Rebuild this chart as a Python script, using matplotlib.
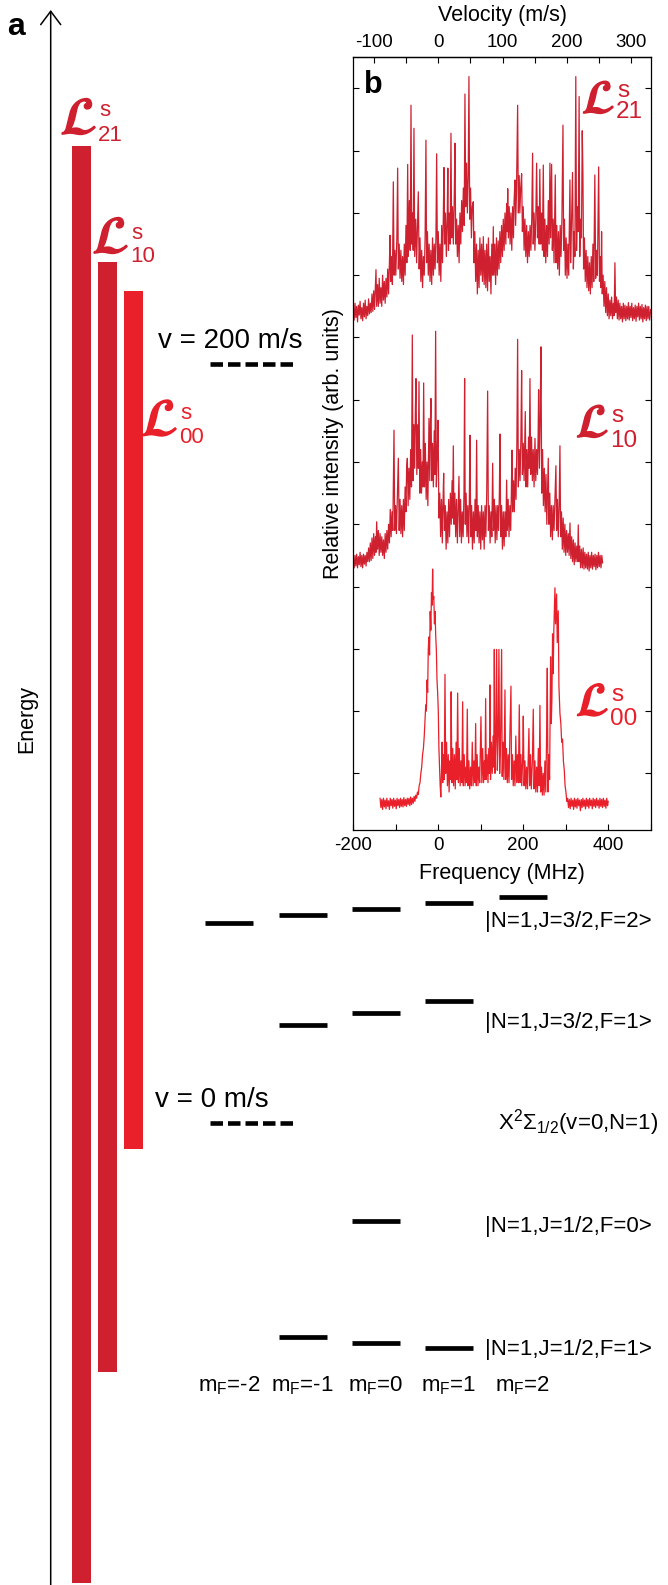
import numpy as np
import matplotlib
matplotlib.use('Agg')
import matplotlib.pyplot as plt
import matplotlib.patheffects as pe
from matplotlib.ticker import MultipleLocator

plt.rcParams['font.family'] = ['Liberation Sans', 'DejaVu Sans']
plt.rcParams['mathtext.fontset'] = 'custom'
plt.rcParams['mathtext.rm'] = 'Liberation Sans'
plt.rcParams['mathtext.it'] = 'Liberation Sans:italic'
plt.rcParams['mathtext.bf'] = 'Liberation Sans:bold'
plt.rcParams['lines.scale_dashes'] = False
plt.rcParams['axes.unicode_minus'] = False

# ---------------- data: panel a (energy in velocity-equivalent units, m/s) ----------------
bar_names = ['21', '10', '00']
bar_top = [257.4, 226.9, 219.2]
bar_bottom = [-121.2, -65.6, -6.9]
velocity_marks = [200, 0]
velocity_labels = ['v = 200 m/s', 'v = 0 m/s']

mF_labels = ['-2', '-1', '0', '1', '2']
lev_J32_F2 = [52.8, 54.7, 56.3, 57.9, 59.5]      # mF = -2..2
lev_J32_F1 = [25.8, 28.9, 32.1]                  # mF = -1..1
lev_J12_F0 = [-25.7]                             # mF = 0
lev_J12_F1 = [-56.3, -57.9, -59.4]               # mF = -1..1
state_labels = ['|N=1,J=3/2,F=2>', '|N=1,J=3/2,F=1>', r'X$^2\Sigma_{1/2}$(v=0,N=1)',
                '|N=1,J=1/2,F=0>', '|N=1,J=1/2,F=1>']

# ---------------- data: panel b spectra (frequency MHz, intensity arb.) ----------------
l21_trace = np.array([
(-200, 8.45), (-198, 8.28), (-196, 8.55), (-194, 8.32), (-192, 8.5), (-190, 8.25), (-188, 8.52), (-186, 8.36),
(-184, 8.58), (-182, 8.3), (-180, 8.48), (-178, 8.27), (-176, 8.55), (-174, 8.33), (-172, 8.6), (-170, 8.3),
(-168, 8.5), (-166, 8.35), (-164, 8.62), (-162, 8.38), (-160, 8.55), (-158, 8.4), (-156, 8.7), (-154, 8.42),
(-152, 8.75), (-150, 8.45), (-148, 8.8), (-146.6, 9.09), (-145, 8.5), (-143, 8.85), (-141, 8.5), (-139, 8.95),
(-137, 8.55), (-135, 8.8), (-133, 8.5), (-131, 9.0), (-129, 8.6), (-127, 8.9), (-125, 8.55), (-123, 8.95),
(-121, 8.65), (-119, 9.1), (-117, 8.7), (-115, 9.2), (-113.6, 9.64), (-112, 8.9), (-110, 9.3), (-108, 8.85),
(-105.8, 10.5), (-104, 9.0), (-102, 9.4), (-100, 9.0), (-97.5, 9.6), (-95.6, 10.72), (-94, 9.1), (-92, 9.5),
(-90, 8.95), (-88, 9.4), (-86, 8.9), (-84, 9.3), (-82, 8.85), (-80, 9.5), (-78, 9.0), (-76, 9.8), (-74, 9.2),
(-72, 10.78), (-70.5, 9.3), (-68, 10.2), (-66, 9.4), (-64.2, 11.73), (-62.5, 9.5), (-60.5, 10.0), (-59, 9.4),
(-57.2, 11.36), (-55.5, 9.3), (-53, 9.9), (-51, 9.2), (-49, 9.8), (-47, 10.34), (-45, 9.1), (-43, 9.6),
(-41, 8.9), (-39, 9.4), (-37, 8.8), (-35, 9.3), (-33, 9.0), (-31, 9.6), (-29, 11.17), (-27.5, 9.2),
(-25.5, 9.7), (-23.5, 9.0), (-21.5, 9.5), (-19.5, 8.9), (-17.5, 9.4), (-15.5, 8.85), (-13.5, 9.6), (-11.5, 9.0),
(-9.5, 9.5), (-7.5, 9.1), (-5.5, 9.6), (-3.8, 10.95), (-2, 9.2), (0, 9.7), (2, 9.0), (4, 9.5), (6, 8.9),
(8, 9.8), (10, 9.2), (11.8, 9.9), (13.4, 10.73), (15, 9.5), (17, 10.0), (19, 9.3), (21, 9.9), (22.5, 10.72),
(24, 9.4), (26, 10.0), (28, 9.5), (29.9, 11.28), (31.5, 9.6), (33.5, 10.1), (35.5, 9.5), (37.5, 10.2),
(39.3, 11.12), (41, 9.5), (43, 9.9), (45, 9.3), (47, 9.8), (49, 9.2), (51, 10.0), (53, 9.5), (55, 10.2),
(57, 9.7), (59, 10.4), (61, 9.8), (62.8, 11.91), (64.5, 10.1), (66.5, 10.8), (68.5, 10.0), (70.5, 10.6),
(72.2, 12.19), (74, 9.9), (76, 10.4), (78, 9.6), (80, 10.1), (82.4, 10.18), (84, 9.2), (86, 9.7), (88, 8.9),
(90, 9.5), (92, 8.7), (94, 9.4), (96, 8.8), (98, 9.6), (100, 9.0), (102, 9.5), (104, 8.9), (106, 9.62),
(108, 8.85), (110, 9.4), (112, 8.8), (114, 9.5), (116, 8.75), (118, 9.6), (120, 8.9), (122, 9.3), (124, 8.7),
(126, 9.5), (128, 9.0), (129.5, 9.78), (131, 9.0), (133, 9.5), (135, 8.85), (137, 9.6), (139, 9.0),
(141, 9.55), (143, 9.1), (145, 9.7), (147, 9.2), (149, 9.8), (151, 9.3), (153, 9.9), (155, 9.4), (157, 10.0),
(159, 9.5), (160.9, 10.15), (162, 9.7), (163.5, 10.39), (165, 9.6), (167, 10.1), (169, 9.5), (171, 10.0),
(173, 9.4), (175, 10.1), (177, 9.6), (178.5, 10.2), (180.5, 10.53), (182, 9.8), (184, 10.3), (186.8, 11.73),
(188.5, 10.0), (190.5, 10.6), (192, 10.0), (194, 10.4), (196.2, 10.63), (198, 9.7), (200, 10.1), (202, 9.4),
(204, 9.9), (206, 9.3), (208, 9.8), (210, 9.2), (212, 9.7), (214, 9.3), (216, 9.8), (218, 9.4), (220, 9.9),
(222, 10.96), (223.5, 9.5), (225.5, 10.0), (227.5, 9.4), (229.5, 9.9), (231.5, 10.8), (233.5, 9.6),
(235.5, 10.1), (237.5, 9.5), (239, 10.7), (241, 9.5), (243, 10.0), (245, 9.4), (247.2, 10.77), (249, 9.3),
(251, 9.9), (253, 9.2), (255, 9.8), (257, 9.3), (259, 10.2), (261, 9.5), (262.8, 10.8), (264.5, 9.6),
(266.8, 10.78), (268.5, 9.4), (270.5, 9.9), (272.5, 9.2), (275.4, 10.61), (277, 9.2), (279, 9.8), (281, 9.1),
(283, 9.7), (285, 9.0), (287, 9.8), (289, 9.3), (291, 9.9), (293.5, 11.41), (295, 9.4), (297, 9.9), (299, 9.0),
(301, 9.6), (303, 8.95), (305, 9.5), (307, 9.0), (309.9, 10.53), (311.5, 9.2), (313.5, 9.8), (316, 10.65),
(318, 9.1), (320, 9.7), (321.5, 9.3), (323.7, 12.19), (325.5, 9.4), (327.5, 10.1), (329.5, 9.7),
(331.5, 11.87), (333, 9.3), (335, 9.9), (337, 9.6), (338.9, 11.32), (340.5, 10.63), (342, 9.1), (344, 9.6),
(346, 8.9), (348, 9.4), (350, 8.8), (352, 9.3), (354, 8.75), (356, 9.2), (358, 8.7), (360, 9.3), (362, 8.8),
(364, 9.5), (366, 8.9), (368.5, 10.61), (370.5, 8.95), (372.5, 9.4), (374.5, 9.0), (377.5, 10.74),
(379.5, 8.9), (381.5, 9.3), (383, 8.8), (384.4, 9.7), (386, 8.7), (388, 9.0), (390, 8.5), (392, 8.9),
(394, 8.4), (396, 8.8), (398, 8.35), (400, 8.7), (402, 8.3), (404, 8.6), (406, 8.35), (408, 8.65), (410, 8.3),
(412, 8.55), (414, 8.35), (415.8, 9.2), (417.5, 8.4), (419.5, 8.65), (421.5, 8.3), (423.5, 8.6), (425.5, 8.28),
(427.5, 8.55), (429.5, 8.3), (431.5, 8.5), (433.5, 8.25), (435.5, 8.55), (437.5, 8.3), (439.5, 8.52),
(441.5, 8.27), (443.5, 8.5), (445.5, 8.3), (447.5, 8.56), (449.5, 8.28), (451.5, 8.5), (453.5, 8.32),
(455.5, 8.55), (457.5, 8.27), (459.5, 8.48), (461.5, 8.3), (463.5, 8.52), (465.5, 8.26), (467.5, 8.5),
(469.5, 8.33), (471.5, 8.55), (473.5, 8.28), (475.5, 8.5), (477.5, 8.3), (479.5, 8.53), (481.5, 8.25),
(483.5, 8.48), (485.5, 8.3), (487.5, 8.52), (489.5, 8.27), (491.5, 8.5), (493.5, 8.3), (495.5, 8.5),
(497.5, 8.28), (500, 8.45),
])

l10_trace = np.array([
(-200, 4.45), (-198, 4.3), (-196, 4.5), (-194, 4.33), (-192, 4.52), (-190, 4.3), (-188, 4.48), (-186, 4.35),
(-184, 4.55), (-182, 4.32), (-180, 4.5), (-178, 4.3), (-176, 4.52), (-174, 4.36), (-172, 4.5), (-170, 4.33),
(-168, 4.55), (-166, 4.4), (-164, 4.62), (-162, 4.4), (-160, 4.7), (-158, 4.42), (-156, 4.78), (-154, 4.45),
(-152, 4.85), (-150, 4.5), (-148, 4.8), (-146.5, 4.55), (-145, 5.04), (-143, 4.6), (-141, 4.9), (-139, 4.5),
(-137, 4.85), (-135, 4.55), (-133, 4.8), (-131, 4.5), (-129, 4.75), (-127, 4.45), (-125, 4.85), (-123, 4.55),
(-121, 4.9), (-119, 4.6), (-117, 5.0), (-115, 4.7), (-113, 5.24), (-111, 4.8), (-109, 5.2), (-107, 4.9),
(-104.2, 6.51), (-102.5, 4.9), (-100.5, 5.3), (-98.5, 4.85), (-96.5, 5.4), (-94, 6.06), (-92, 4.9), (-90, 5.4),
(-88, 4.85), (-86, 5.3), (-84, 4.8), (-82, 5.4), (-80, 4.9), (-78, 5.6), (-76, 5.2), (-74.5, 5.9),
(-72.8, 6.06), (-71, 5.3), (-69, 5.9), (-67, 5.4), (-65, 6.2), (-63, 5.6), (-61.1, 8.04), (-59.5, 5.7),
(-57.5, 6.6), (-55.5, 5.9), (-54, 6.8), (-52.5, 7.34), (-50.5, 5.8), (-48.5, 6.6), (-47, 5.9), (-45.4, 7.29),
(-43.5, 5.5), (-41.5, 6.2), (-39.5, 5.5), (-37.5, 6.0), (-36, 5.6), (-34.4, 7.27), (-32.5, 5.6), (-30.5, 6.3),
(-28.5, 5.4), (-26.5, 6.0), (-24.5, 5.3), (-21.9, 6.70), (-20, 5.7), (-18.6, 6.6), (-17.2, 7.02), (-15.5, 5.7),
(-13.5, 6.3), (-11.5, 5.6), (-9.5, 6.5), (-8, 5.8), (-6.2, 8.10), (-4.5, 5.6), (-2.5, 6.1), (-0.5, 6.67),
(1.5, 5.1), (3.5, 5.5), (5.5, 4.8), (7.5, 5.4), (9.5, 4.7), (11, 5.3), (12.7, 5.82), (14.5, 4.9), (16.5, 5.3),
(18.5, 4.6), (20.5, 5.2), (22.5, 4.7), (24.5, 5.4), (26.5, 4.8), (28.5, 5.5), (30.5, 5.0), (32.5, 5.7),
(33.8, 5.1), (35.4, 6.26), (37, 5.0), (39, 5.5), (41, 4.8), (43, 5.4), (45, 4.7), (47, 5.3), (48.7, 5.77),
(50.5, 4.8), (52.5, 5.4), (54.5, 4.7), (56.5, 5.2), (58.5, 4.8), (60.5, 5.5), (62, 7.34), (63.5, 5.0),
(65.5, 5.5), (67.5, 4.8), (69.5, 5.3), (71.5, 4.7), (73, 5.3), (74.6, 6.43), (76.5, 4.8), (78.5, 5.3),
(80.5, 4.6), (82.5, 5.2), (84.5, 4.7), (86.5, 5.4), (88.5, 4.9), (90.3, 6.35), (92, 4.8), (94, 5.3), (96, 4.7),
(98, 5.2), (100, 4.6), (102, 5.3), (104, 4.75), (106, 5.2), (108, 4.6), (110, 5.3), (112, 4.8), (114, 5.5),
(116.2, 7.14), (118, 4.9), (120, 5.3), (122, 4.7), (124, 5.2), (126, 4.8), (128, 5.98), (130, 4.9), (132, 5.4),
(134, 4.7), (136, 5.3), (138, 4.75), (140, 5.3), (142, 4.9), (143.8, 5.5), (145.2, 6.45), (147, 4.8),
(149, 5.3), (151, 4.6), (153, 5.2), (155, 4.65), (157, 5.2), (159, 4.8), (160.9, 5.71), (162.5, 4.9),
(164.5, 5.4), (166.5, 4.8), (168.5, 5.3), (170.5, 4.9), (172, 5.5), (173.4, 6.19), (175, 5.2), (177, 5.7),
(179, 5.2), (181, 5.9), (183, 5.4), (185, 6.3), (186.8, 7.97), (188.5, 5.6), (190.5, 6.2), (192.5, 5.7),
(194.5, 6.4), (196.2, 7.47), (198, 5.8), (200, 6.3), (202, 5.7), (203.5, 6.3), (204.8, 6.81), (206.5, 5.6),
(208.5, 6.2), (210.5, 5.6), (212.5, 6.4), (214, 5.9), (215.8, 7.34), (217.5, 5.8), (219.5, 6.4), (221.5, 5.7),
(223.5, 6.2), (225.5, 5.6), (227.6, 6.38), (229.5, 5.7), (231.5, 6.2), (233.5, 5.8), (235, 6.4), (236.2, 7.16),
(238, 5.9), (239.8, 6.7), (241.7, 7.85), (243.5, 5.5), (245.5, 6.2), (247.5, 5.3), (249.5, 5.9), (251.5, 5.2),
(253.5, 5.8), (255.5, 5.0), (257.3, 5.6), (258.9, 6.06), (260.5, 5.0), (262.5, 5.5), (264.5, 4.8),
(266.5, 5.3), (268.5, 4.75), (270.5, 5.3), (272.5, 4.9), (274.5, 5.4), (276.9, 5.94), (278.5, 4.9),
(280.5, 5.4), (282.5, 4.8), (284.5, 5.3), (286.4, 6.26), (288, 4.8), (290, 5.2), (292, 4.6), (294, 5.1),
(296, 4.55), (298, 5.0), (300, 4.5), (302, 4.9), (304, 4.55), (306, 4.85), (308, 4.5), (310, 5.02),
(312, 4.45), (314, 4.8), (316, 4.4), (318, 4.75), (320, 4.35), (322, 4.7), (324, 4.4), (326, 4.65), (328, 4.4),
(329.5, 4.99), (331, 4.4), (333, 4.65), (335, 4.3), (337, 4.6), (339, 4.3), (341, 4.62), (343, 4.28),
(345, 4.55), (347, 4.3), (349, 4.52), (351, 4.28), (353, 4.55), (355, 4.25), (357, 4.5), (359, 4.3),
(361, 4.55), (363, 4.28), (365, 4.5), (367, 4.32), (369, 4.52), (371, 4.27), (373, 4.5), (375, 4.3),
(377, 4.55), (379, 4.32), (381, 4.5), (383, 4.3), (385, 4.5), (386.8, 4.38),
])

l00_trace = np.array([
(-137, 0.6), (-135, 0.45), (-133, 0.58), (-131, 0.42), (-129, 0.6), (-127, 0.46), (-125, 0.57), (-123, 0.43),
(-121, 0.6), (-119, 0.47), (-117, 0.56), (-115, 0.42), (-113, 0.6), (-111, 0.48), (-109, 0.58), (-107, 0.44),
(-105, 0.6), (-103, 0.47), (-101, 0.57), (-99, 0.43), (-97, 0.6), (-95, 0.48), (-93, 0.58), (-91, 0.45),
(-89, 0.6), (-87, 0.47), (-85, 0.58), (-83, 0.46), (-81, 0.61), (-79, 0.48), (-77, 0.58), (-75, 0.47),
(-73, 0.6), (-71, 0.5), (-69, 0.6), (-67, 0.48), (-65, 0.62), (-63, 0.5), (-61, 0.6), (-59, 0.52), (-57, 0.63),
(-55, 0.55), (-53, 0.65), (-51, 0.6), (-49, 0.7), (-47, 0.66), (-45, 0.8), (-43, 0.85), (-41, 1.0), (-39, 1.1),
(-37, 1.3), (-35, 1.4), (-33, 1.6), (-31, 1.9), (-29.5, 2.1), (-28, 2.0), (-26.5, 2.5), (-25, 2.3),
(-23.5, 3.0), (-22, 3.19), (-20.5, 2.9), (-19, 3.6), (-17.5, 3.3), (-16, 3.9), (-14.5, 3.7), (-13.3, 4.28),
(-12, 3.8), (-10.5, 3.84), (-9, 3.4), (-7.5, 3.6), (-6, 3.2), (-4.5, 2.98), (-3, 2.5), (-1.5, 2.3), (0, 2.02),
(1.5, 1.4), (3, 1.1), (4.5, 0.8), (6, 0.62), (7.5, 1.0), (9, 1.5), (10.5, 0.85), (12, 1.3), (14, 0.9),
(15.8, 2.59), (17.5, 1.0), (19.5, 1.5), (21.5, 0.8), (23.5, 1.3), (25.5, 0.7), (27.5, 1.2), (29, 0.9),
(30.3, 2.31), (32, 0.85), (34, 1.4), (36, 0.8), (38, 1.3), (40, 0.75), (42, 1.5), (43.8, 0.9), (45.6, 2.29),
(47.5, 0.85), (49.5, 1.4), (51.5, 0.8), (53.5, 1.2), (55.5, 0.85), (57.4, 2.15), (59, 0.8), (61, 1.3),
(63, 0.8), (65, 1.1), (66.5, 0.85), (68.3, 2.03), (70, 0.8), (72, 1.2), (74, 0.75), (76, 1.1), (78, 0.8),
(80, 1.5), (82, 0.8), (84, 1.2), (86, 0.85), (88, 1.80), (89.5, 0.8), (91.5, 1.3), (93.5, 0.8), (95.5, 1.1),
(97.5, 0.85), (100.5, 1.91), (102.5, 0.85), (104.5, 1.4), (106.5, 0.85), (108.5, 1.2), (110, 0.9),
(111.5, 2.20), (113, 0.9), (115, 1.3), (117, 0.85), (119, 1.4), (120.5, 1.0), (121.7, 2.42), (123, 0.9),
(125, 1.5), (127, 1.0), (129, 1.6), (130.5, 1.1), (131.9, 2.99), (133.5, 1.0), (135.5, 1.5), (137.4, 2.99),
(139, 1.05), (141, 1.6), (142.8, 2.99), (144.5, 1.0), (146.5, 1.5), (149.1, 2.99), (150.5, 0.95),
(152.5, 1.5), (154.5, 0.9), (157, 2.34), (158.5, 0.9), (160.5, 1.4), (162.5, 0.85), (164.5, 1.3),
(166.5, 0.85), (168.5, 1.6), (171.1, 2.40), (172.5, 0.9), (174.5, 1.3), (176.5, 0.8), (178.5, 1.2),
(180.5, 0.8), (182.5, 1.6), (184.5, 0.85), (186.5, 1.3), (188.5, 0.85), (190.7, 2.10), (192.5, 0.85),
(194.5, 1.3), (196.5, 0.8), (198.5, 1.2), (200.1, 1.92), (202, 0.8), (204, 1.2), (206, 0.75), (208, 1.1),
(210, 0.75), (211.8, 1.3), (213.4, 1.72), (215, 0.8), (217, 1.3), (219, 0.75), (221.5, 1.2), (223.6, 2.03),
(225.5, 0.75), (227.5, 1.2), (229.5, 0.7), (231.5, 1.1), (233.5, 0.7), (235.5, 1.4), (237.5, 0.8),
(239.3, 2.09), (241, 0.7), (243, 1.1), (245, 0.65), (247, 1.0), (249, 0.65), (251, 1.2), (253, 0.7),
(254.8, 1.5), (256.6, 2.69), (258.3, 0.7), (260, 1.3), (262, 0.9), (264.4, 2.87), (266, 1.8), (267.5, 2.2),
(269, 3.24), (270.5, 2.6), (272, 3.3), (274.6, 3.98), (276, 3.4), (278.5, 3.88), (280, 3.1), (282.4, 3.61),
(284, 2.4), (286.4, 1.96), (288.5, 1.8), (290.5, 1.5), (292.5, 1.55), (294.5, 1.2), (296.6, 1.05),
(298.5, 0.8), (300.5, 0.7), (302.5, 0.55), (304.5, 0.6), (306.5, 0.45), (308.5, 0.58), (310.5, 0.43),
(312.5, 0.6), (314.5, 0.47), (316.5, 0.57), (318.5, 0.42), (320.5, 0.6), (322.5, 0.46), (324.5, 0.58),
(326.5, 0.44), (328.5, 0.6), (330.5, 0.48), (332.5, 0.57), (334.5, 0.4), (336.5, 0.58), (338.5, 0.45),
(340.5, 0.6), (342.5, 0.47), (344.5, 0.57), (346.5, 0.43), (348.5, 0.6), (350.5, 0.47), (352.5, 0.58),
(354.5, 0.44), (356.5, 0.6), (358.5, 0.48), (360.5, 0.57), (362.5, 0.43), (364.5, 0.6), (366.5, 0.47),
(368.5, 0.58), (370.5, 0.45), (372.5, 0.6), (374.5, 0.48), (376.5, 0.57), (378.5, 0.44), (380.5, 0.6),
(382.5, 0.47), (384.5, 0.58), (386.5, 0.45), (388.5, 0.6), (390.5, 0.47), (392.5, 0.57), (394.5, 0.44),
(396.5, 0.6), (398.5, 0.48), (400, 0.55),
])

freq_ticks = [-200, 0, 200, 400]
vel_ticks = [-100, 0, 100, 200, 300]
MHZ_PER_MS = 1.515   # Doppler shift per m/s

# ---------------- styling ----------------
C_DARK = '#cf2030'
C_BRIGHT = '#e91f2a'
bar_colors = [C_DARK, C_DARK, C_BRIGHT]
trace_colors = [C_DARK, C_DARK, C_BRIGHT]

W, H = 668, 1585
fig = plt.figure(figsize=(W / 100, H / 100), dpi=100)


def fx(x):
    return x / W


def fy(y):
    return 1 - y / H


# ---------------- panel a ----------------
axa = fig.add_axes([0, 0, 1, 1])
axa.set_xlim(0, W)
E_lo, E_hi = (1123 - H) / 3.795, 1123 / 3.795
axa.set_ylim(E_lo, E_hi)
axa.axis('off')

bar_x = [81.5, 107.5, 133.3]
axa.bar(bar_x, np.array(bar_top) - np.array(bar_bottom), bottom=bar_bottom, width=19,
        color=bar_colors, linewidth=0)

# energy axis
axa.annotate('', xy=(50.7, (1123 - 10) / 3.795), xytext=(50.7, E_lo),
             arrowprops=dict(arrowstyle='->,head_length=0.4,head_width=0.3', lw=1.1,
                             color='black', shrinkA=0, shrinkB=0, mutation_scale=24),
             annotation_clip=False)

# velocity dashed markers
for v in velocity_marks:
    axa.plot([210, 293], [v, v], color='black', lw=3.3, dashes=(9, 3.6), solid_capstyle='butt',
             dash_capstyle='butt')

# hyperfine levels
col_x = {'-2': 229, '-1': 302.5, '0': 376, '1': 449, '2': 522.5}
half = 24
groups = [(lev_J32_F2, ['-2', '-1', '0', '1', '2']),
          (lev_J32_F1, ['-1', '0', '1']),
          (lev_J12_F0, ['0']),
          (lev_J12_F1, ['-1', '0', '1'])]
for levels, mfs in groups:
    for e, m in zip(levels, mfs):
        axa.plot([col_x[m] - half, col_x[m] + half], [e, e], color='black', lw=3.4,
                 solid_capstyle='butt')

# texts panel a
fig.text(fx(7), fy(35), 'a', fontsize=23, fontweight='bold', ha='left', va='baseline')
fig.text(fx(27), fy(719), 'Energy', rotation=90, ha='center', va='center', fontsize=15.5)
fig.text(fx(158), fy(348), velocity_labels[0], fontsize=20, ha='left', va='baseline')
fig.text(fx(155), fy(1107), velocity_labels[1], fontsize=20, ha='left', va='baseline')

state_pos = [(485, 927), (485, 1028), (498, 1130), (485, 1232), (485, 1355)]
for (x, y), s in zip(state_pos, state_labels):
    fig.text(fx(x), fy(y), s, fontsize=16, ha='left', va='baseline')

for m in mF_labels:
    fig.text(fx(col_x[m]), fy(1391), r'm$_\mathregular{F}$=' + m, fontsize=16, ha='center',
             va='baseline')


def script_label(xr, yc, ys, yn, sub, color, sL, sS):
    # script L: right edge at xr, vertically centred on yc
    fig.text(fx(xr), fy(yc), r'$\mathcal{L}$', math_fontfamily='stix', fontsize=sL,
             color=color, ha='right', va='center',
             path_effects=[pe.withStroke(linewidth=1.2, foreground=color)])
    fig.text(fx(xr + 2), fy(ys), 's', fontsize=sS, color=color, ha='left', va='baseline')
    fig.text(fx(xr + 1), fy(yn), sub, fontsize=sS, color=color, ha='left', va='baseline')


script_label(97, 120, 116, 141, bar_names[0], bar_colors[0], 38, 16)
script_label(129, 239, 239, 262, bar_names[1], bar_colors[1], 38, 16)
script_label(178, 421.5, 419, 443, bar_names[2], bar_colors[2], 38, 16)

# ---------------- panel b ----------------
L, T, R, B = 353.3, 57.3, 650.7, 830
axb = fig.add_axes([fx(L), fy(B), (R - L) / W, (B - T) / H])
axb.patch.set_alpha(0)
for tr, c in zip([l21_trace, l10_trace, l00_trace], trace_colors):
    axb.plot(tr[:, 0], tr[:, 1], color=c, lw=0.9)

axb.set_xlim(-200, 500)
axb.set_ylim(0.09, 12.5)
axb.set_xticks(freq_ticks)
axb.xaxis.set_minor_locator(MultipleLocator(100))
axb.set_yticks(np.arange(1, 13))
axb.tick_params(axis='both', which='both', direction='in', length=4, width=0.8, labelsize=13.5)
axb.tick_params(axis='x', which='both', bottom=True, top=False, pad=5)
axb.tick_params(axis='y', which='both', left=True, right=True, labelleft=False)
for sp in axb.spines.values():
    sp.set_linewidth(0.9)

sec = axb.secondary_xaxis('top', functions=(lambda f: f / MHZ_PER_MS, lambda v: v * MHZ_PER_MS))
sec.set_xticks(vel_ticks)
sec.xaxis.set_minor_locator(MultipleLocator(50))
sec.tick_params(axis='x', which='both', direction='in', length=4, width=0.8, labelsize=13.5, pad=4.5)
sec.spines['top'].set_linewidth(0.9)

fig.text(fx(502), fy(879), 'Frequency (MHz)', fontsize=15.5, ha='center', va='baseline')
fig.text(fx(502.5), fy(21), 'Velocity (m/s)', fontsize=15.5, ha='center', va='baseline')
fig.text(fx(333), fy(443.5), 'Relative intensity (arb. units)', fontsize=15.5, rotation=90,
         ha='center', va='center')
fig.text(fx(364), fy(93), 'b', fontsize=22, fontweight='bold', ha='left', va='baseline')

script_label(615, 101, 97, 118, bar_names[0], trace_colors[0], 34, 17.5)
script_label(609, 425, 422, 447, bar_names[1], trace_colors[1], 34, 17.5)
script_label(609, 703.5, 701, 725, bar_names[2], trace_colors[2], 34, 17.5)

fig.savefig('out.png', dpi=100)
